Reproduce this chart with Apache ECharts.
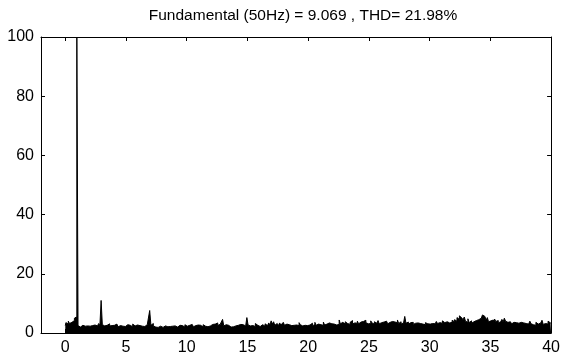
<!DOCTYPE html>
<html>
<head>
    <meta charset="UTF-8">
    <title>FFT spectrum</title>
    <script src="https://cdn.jsdelivr.net/npm/echarts@6/dist/echarts.min.js"></script>
    <style>
        html, body { margin: 0; padding: 0; background: #fff; }
        #chart { width: 563px; height: 364px; }
    </style>
</head>
<body>
    <div id="chart"></div>
    <script>
        const titleText = 'Fundamental (50Hz) = 9.069 , THD= 21.98%';
        const xTicks = [0, 5, 10, 15, 20, 25, 30, 35, 40];
        const yTicks = [0, 20, 40, 60, 80, 100];
        // harmonic order step between bins
        const binStep = 0.1;
        // magnitude (% of fundamental), one row per harmonic order 0..39, last value at 40
        const magnitude = [
            2.5, 3.5, 3.0, 4.0, 3.2, 3.6, 3.0, 4.2, 5.0, 5.5,
            100, 2.5, 2.0, 2.4, 2.2, 2.6, 2.3, 2.8, 2.4, 2.6,
            2.3, 2.9, 2.5, 2.2, 2.7, 3.0, 2.4, 2.6, 3.2, 2.5,
            11, 2.8, 2.4, 2.2, 2.6, 2.0, 3.1, 2.4, 2.5, 2.2,
            2.6, 2.3, 3.0, 2.4, 2.1, 2.5, 2.9, 2.3, 2.6, 2.2,
            2.5, 2.8, 2.2, 2.4, 2.6, 2.1, 3.0, 2.4, 2.3, 2.7,
            2.2, 2.5, 2.9, 2.3, 2.6, 2.4, 2.2, 2.8, 2.5, 2.3,
            7.6, 2.6, 3.2, 2.4, 2.0, 2.2, 1.9, 2.1, 2.0, 2.3,
            1.9, 2.2, 2.0, 2.4, 2.1, 1.8, 2.2, 2.0, 2.3, 1.9,
            2.1, 2.4, 2.0, 2.2, 2.6, 2.1, 2.3, 2.5, 2.0, 2.8,
            2.3, 2.0, 2.6, 2.2, 2.4, 2.9, 2.1, 2.5, 2.3, 2.7,
            2.2, 2.6, 2.4, 2.0, 2.8, 2.3, 2.5, 2.1, 2.7, 2.4,
            2.3, 2.9, 2.5, 3.0, 2.4, 3.4, 2.6, 2.9, 2.3, 2.5,
            4.6, 2.4, 2.8, 2.2, 2.6, 2.4, 2.0, 2.5, 2.3, 2.1,
            2.4, 2.2, 2.6, 2.1, 2.9, 2.5, 2.3, 2.8, 2.4, 2.6,
            5.2, 2.7, 2.4, 3.0, 2.5, 2.8, 2.2, 3.2, 2.6, 2.4,
            2.2, 2.6, 2.4, 2.8, 2.3, 3.1, 2.5, 2.9, 3.4, 2.7,
            4.1, 3.0, 3.8, 2.6, 3.2, 2.8, 2.5, 3.4, 2.7, 2.9,
            3.6, 2.6, 3.0, 2.4, 2.8, 3.3, 2.5, 2.9, 2.6, 3.1,
            2.7, 3.2, 2.5, 3.5, 2.8, 2.4, 3.0, 2.6, 2.9, 2.5,
            3.1, 2.7, 2.6, 3.3, 2.4, 2.9, 3.6, 2.6, 3.0, 2.5,
            2.8, 3.2, 2.6, 3.7, 2.7, 3.0, 2.5, 3.4, 2.8, 3.1,
            2.6, 3.0, 3.5, 2.7, 3.2, 2.9, 4.4, 3.1, 3.6, 3.3,
            3.0, 3.8, 3.2, 3.5, 2.9, 3.6, 4.2, 3.1, 3.4, 3.0,
            3.3, 4.0, 3.1, 3.7, 3.2, 3.9, 3.4, 4.3, 3.5, 3.1,
            3.6, 3.2, 4.1, 3.4, 3.0, 3.8, 3.3, 3.6, 4.2, 3.1,
            3.5, 3.0, 3.7, 3.3, 4.0, 3.4, 3.1, 3.6, 3.2, 3.9,
            3.3, 3.7, 3.1, 3.5, 4.4, 3.2, 3.8, 3.0, 3.4, 3.6,
            5.6, 3.3, 3.7, 3.0, 3.5, 3.2, 3.6, 2.9, 3.3, 3.0,
            3.4, 2.9, 3.2, 3.6, 3.0, 3.3, 2.8, 3.5, 3.1, 3.4,
            3.0, 3.6, 3.2, 3.8, 3.1, 3.4, 3.9, 3.2, 3.5, 3.7,
            3.3, 4.1, 3.5, 3.2, 3.8, 4.4, 3.4, 3.9, 3.6, 4.3,
            3.8, 4.5, 4.0, 5.2, 4.6, 5.8, 6.0, 5.1, 4.4, 5.4,
            4.0, 3.6, 4.8, 3.5, 4.1, 3.3, 3.8, 3.4, 4.2, 3.7,
            4.5, 3.9, 5.0, 4.6, 6.1, 5.6, 5.0, 4.3, 5.2, 3.8,
            4.1, 3.6, 4.4, 3.5, 4.7, 3.9, 4.2, 3.4, 3.8, 3.6,
            4.6, 3.7, 5.0, 4.0, 3.6, 3.3, 3.8, 3.4, 3.1, 3.6,
            3.2, 3.5, 3.0, 3.3, 2.9, 3.6, 3.1, 3.4, 2.8, 3.2,
            3.5, 3.0, 2.7, 4.0, 3.1, 2.8, 3.3, 2.6, 3.6, 3.0,
            2.8, 3.4, 3.0, 4.3, 2.9, 3.2, 3.6, 3.0, 4.0, 3.4,
            3.2
        ];

        const points = magnitude.map((v, i) => [+(i * binStep).toFixed(2), v]);

        const font = 'Liberation Sans';
        const axisBase = {
            axisLine: { show: true, onZero: false, lineStyle: { color: '#000', width: 1 } },
            axisTick: { show: true, inside: true, length: 4, lineStyle: { color: '#000' } },
            splitLine: { show: false }
        };

        const chart = echarts.init(document.getElementById('chart'), null, { renderer: 'canvas' });
        chart.setOption({
            animation: false,
            backgroundColor: '#fff',
            title: {
                text: titleText,
                left: 298,
                textAlign: 'center',
                top: 3,
                textStyle: { fontFamily: font, fontSize: 15.5, fontWeight: 'normal', color: '#000' }
            },
            grid: { left: 41, right: 10, top: 37, bottom: 31 },
            xAxis: [
                Object.assign({}, axisBase, {
                    type: 'value', min: -2, max: 40, position: 'bottom',
                    axisTick: Object.assign({}, axisBase.axisTick, { customValues: xTicks }),
                    axisLabel: { customValues: xTicks, color: '#000', fontFamily: font, fontSize: 16, margin: 7 }
                }),
                Object.assign({}, axisBase, {
                    type: 'value', min: -2, max: 40, position: 'top',
                    axisTick: Object.assign({}, axisBase.axisTick, { customValues: xTicks }),
                    axisLabel: { show: false }
                })
            ],
            yAxis: [
                Object.assign({}, axisBase, {
                    type: 'value', min: 0, max: 100, interval: 20, position: 'left',
                    axisTick: Object.assign({}, axisBase.axisTick, { customValues: yTicks }),
                    axisLabel: { customValues: yTicks, color: '#000', fontFamily: font, fontSize: 16, margin: 7 }
                }),
                Object.assign({}, axisBase, {
                    type: 'value', min: 0, max: 100, interval: 20, position: 'right',
                    axisTick: Object.assign({}, axisBase.axisTick, { customValues: yTicks }),
                    axisLabel: { show: false }
                })
            ],
            series: [{
                type: 'line',
                data: points,
                step: 'middle',
                symbol: 'none',
                clip: true,
                lineStyle: { color: '#000', width: 1 },
                areaStyle: { color: '#000', opacity: 1 }
            }]
        });
    </script>
</body>
</html>
